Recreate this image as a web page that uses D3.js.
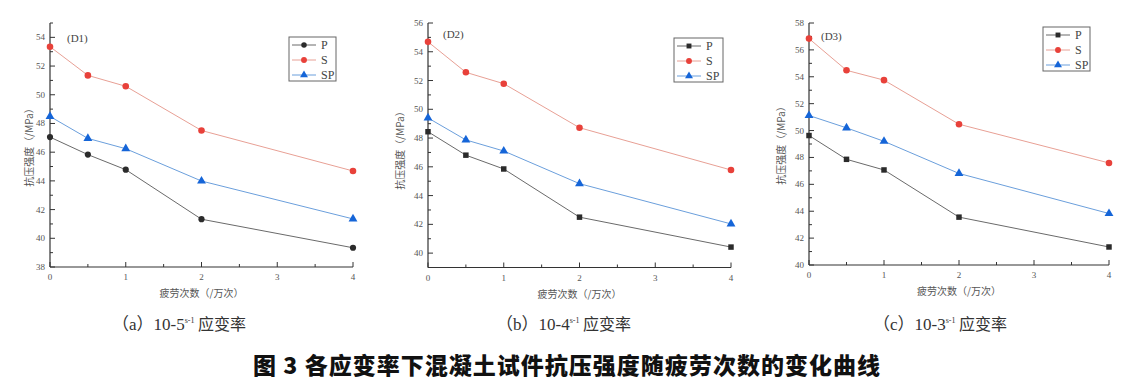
<!DOCTYPE html>
<html>
<head>
<meta charset="utf-8">
<script src="https://cdn.jsdelivr.net/npm/d3@7"></script>
<style>
    html, body { margin: 0; padding: 0; background: #fff; }
    svg { display: block; }
    .tick-label { font-family: 'Liberation Serif', 'DejaVu Serif', serif; font-size: 9px; fill: #555; }
    .axis-title { font-family: 'Noto Sans CJK SC', sans-serif; font-size: 10px; fill: #555; }
    .legend-label { font-family: 'Liberation Serif', serif; font-size: 12px; fill: #444; }
    .note { font-family: 'Liberation Serif', serif; font-size: 11px; fill: #444; }
    .sub-caption { font-family: 'Liberation Serif', 'Noto Sans CJK SC', serif; font-size: 17px; fill: #333; }
    .caption { font-family: 'Noto Sans CJK SC', sans-serif; font-size: 23px; font-weight: 900; fill: #111; }
</style>
</head>
<body>
<svg id="chart" width="1140" height="388"></svg>
<script>
// fatigue cycles (x 10^4)
var fatigueCounts = [ 0, 0.5, 1, 2, 4 ];
var seriesNames = [ 'P', 'S', 'SP' ];

// (a) 10^-5 s^-1
var d1P  = [ 47.05, 45.83, 44.78, 41.33, 39.34 ];
var d1S  = [ 53.35, 51.35, 50.59, 47.51, 44.69 ];
var d1SP = [ 48.49, 46.96, 46.24, 43.99, 41.35 ];
var d1Ticks = [ 38, 40, 42, 44, 46, 48, 50, 52, 54 ];

// (b) 10^-4 s^-1
var d2P  = [ 48.44, 46.81, 45.85, 42.50, 40.42 ];
var d2S  = [ 54.69, 52.57, 51.78, 48.72, 45.78 ];
var d2SP = [ 49.40, 47.87, 47.10, 44.83, 42.03 ];
var d2Ticks = [ 40, 42, 44, 46, 48, 50, 52, 54, 56 ];

// (c) 10^-3 s^-1
var d3P  = [ 49.63, 47.86, 47.07, 43.56, 41.34 ];
var d3S  = [ 56.84, 54.48, 53.75, 50.47, 47.59 ];
var d3SP = [ 51.12, 50.20, 49.20, 46.81, 43.83 ];
var d3Ticks = [ 40, 42, 44, 46, 48, 50, 52, 54, 56, 58 ];

var xTicks = [ 0, 1, 2, 3, 4 ];
var subCaptions = [ '（a）', '（b）', '（c）' ];
var rateExp = [ '10-5', '10-4', '10-3' ];
var notes = [ '(D1)', '(D2)', '(D3)' ];

var styles = {
    P:  { marker: '#2b2b2b', line: '#6a6a6a', symbol: d3.symbolCircle, size: 30 },
    S:  { marker: '#e8413a', line: '#e8a095', symbol: d3.symbolCircle, size: 34 },
    SP: { marker: '#1565d8', line: '#6b9fdc', symbol: d3.symbolTriangle, size: 34 }
};

var svg = d3.select( '#chart' );

function drawPanel( cfg ){
    var g = svg.append( 'g' ),
        x = d3.scaleLinear().domain( [ 0, 4 ] ).range( [ cfg.left, cfg.right ] ),
        y = d3.scaleLinear().domain( cfg.yDomain ).range( [ cfg.bottom, cfg.top ] ),
        series = { P: cfg.P, S: cfg.S, SP: cfg.SP },
        minorY = d3.range( cfg.yDomain[0], cfg.yDomain[1] + 0.01, 1 ),
        minorX = d3.range( 0, 4.01, 0.5 ),
        line = d3.line()
            .x( function( d, i ){ return x( fatigueCounts[i] ); } )
            .y( function( d ){ return y( d ); } );

    // axes lines
    g.append( 'line' )
        .attr( 'x1', x(0) ).attr( 'x2', x(0) )
        .attr( 'y1', y( cfg.yDomain[0] ) ).attr( 'y2', y( cfg.yDomain[1] ) )
        .attr( 'stroke', '#333' ).attr( 'stroke-width', 1.2 );
    g.append( 'line' )
        .attr( 'x1', x(0) ).attr( 'x2', x(4) )
        .attr( 'y1', y( cfg.yDomain[0] ) ).attr( 'y2', y( cfg.yDomain[0] ) )
        .attr( 'stroke', '#333' ).attr( 'stroke-width', 1.2 );

    // y ticks (inward)
    g.selectAll( '.ymin' ).data( minorY ).enter().append( 'line' )
        .attr( 'x1', x(0) ).attr( 'x2', function( d ){ return x(0) + ( cfg.yTicks.indexOf( d ) >= 0 ? 5 : 3 ); } )
        .attr( 'y1', y ).attr( 'y2', y )
        .attr( 'stroke', '#333' ).attr( 'stroke-width', 1 );
    g.selectAll( '.ylab' ).data( cfg.yTicks ).enter().append( 'text' )
        .attr( 'class', 'tick-label' )
        .attr( 'x', x(0) - 5 )
        .attr( 'y', function( d ){ return y( d ) + 3; } )
        .attr( 'text-anchor', 'end' )
        .text( function( d ){ return d; } );

    // x ticks (inward)
    g.selectAll( '.xmin' ).data( minorX ).enter().append( 'line' )
        .attr( 'x1', x ).attr( 'x2', x )
        .attr( 'y1', y( cfg.yDomain[0] ) )
        .attr( 'y2', function( d ){ return y( cfg.yDomain[0] ) - ( d % 1 === 0 ? 5 : 3 ); } )
        .attr( 'stroke', '#333' ).attr( 'stroke-width', 1 );
    g.selectAll( '.xlab' ).data( xTicks ).enter().append( 'text' )
        .attr( 'class', 'tick-label' )
        .attr( 'x', x )
        .attr( 'y', y( cfg.yDomain[0] ) + 13 )
        .attr( 'text-anchor', 'middle' )
        .text( function( d ){ return d; } );

    // titles
    g.append( 'text' )
        .attr( 'class', 'axis-title' )
        .attr( 'transform', 'translate(' + cfg.yTitleX + ',' + cfg.yTitleY + ') rotate(-90)' )
        .attr( 'text-anchor', 'middle' )
        .text( '抗压强度（/MPa）' );
    g.append( 'text' )
        .attr( 'class', 'axis-title' )
        .attr( 'x', ( cfg.left + cfg.right ) / 2 )
        .attr( 'y', cfg.xTitleY )
        .attr( 'text-anchor', 'middle' )
        .text( '疲劳次数（/万次）' );

    g.append( 'text' )
        .attr( 'class', 'note' )
        .attr( 'x', cfg.noteX ).attr( 'y', cfg.noteY )
        .text( cfg.note );

    // series
    seriesNames.forEach( function( name ){
        var st = styles[name],
            sym = d3.symbol().type( name === 'P' ? cfg.pSymbol : st.symbol ).size( st.size );

        g.append( 'path' )
            .attr( 'd', line( series[name] ) )
            .attr( 'fill', 'none' )
            .attr( 'stroke', st.line )
            .attr( 'stroke-width', 1 );

        g.selectAll( '.m' + name ).data( series[name] ).enter().append( 'path' )
            .attr( 'd', sym )
            .attr( 'transform', function( d, i ){ return 'translate(' + x( fatigueCounts[i] ) + ',' + y( d ) + ')'; } )
            .attr( 'fill', st.marker );
    });

    // legend
    var lg = g.append( 'g' ).attr( 'transform', 'translate(' + cfg.legendX + ',' + cfg.legendY + ')' );
    lg.append( 'rect' )
        .attr( 'width', cfg.legendW ).attr( 'height', 44 )
        .attr( 'fill', '#fff' ).attr( 'stroke', '#666' ).attr( 'stroke-width', 1 );
    seriesNames.forEach( function( name, i ){
        var st = styles[name],
            ly = 8 + i * 15,
            sym = d3.symbol().type( name === 'P' ? cfg.pSymbol : st.symbol ).size( st.size * 0.8 );
        lg.append( 'line' )
            .attr( 'x1', 3 ).attr( 'x2', 27 ).attr( 'y1', ly ).attr( 'y2', ly )
            .attr( 'stroke', st.line ).attr( 'stroke-width', 1 );
        lg.append( 'path' )
            .attr( 'd', sym )
            .attr( 'transform', 'translate(15,' + ly + ')' )
            .attr( 'fill', st.marker );
        lg.append( 'text' )
            .attr( 'class', 'legend-label' )
            .attr( 'x', 32 ).attr( 'y', ly + 4 )
            .text( name );
    });

    // sub caption
    var sc = svg.append( 'text' )
        .attr( 'class', 'sub-caption' )
        .attr( 'x', cfg.captionX ).attr( 'y', 330 );
    sc.append( 'tspan' ).text( cfg.caption + cfg.rate );
    sc.append( 'tspan' ).attr( 'dy', -7 ).attr( 'font-size', '8px' ).text( 's-1' );
    sc.append( 'tspan' ).attr( 'dy', 7 ).attr( 'font-family', 'Noto Sans CJK SC' ).attr( 'font-size', '16px' ).text( ' 应变率' );
}

drawPanel({
    P: d1P, S: d1S, SP: d1SP, yTicks: d1Ticks, yDomain: [ 38, 55 ],
    left: 50, right: 353, top: 23, bottom: 267, pSymbol: d3.symbolCircle,
    yTitleX: 33, yTitleY: 145, xTitleY: 297,
    note: notes[0], noteX: 67, noteY: 42,
    legendX: 289, legendY: 37, legendW: 47,
    caption: subCaptions[0], rate: rateExp[0], captionX: 112
});
drawPanel({
    P: d2P, S: d2S, SP: d2SP, yTicks: d2Ticks, yDomain: [ 39, 56 ],
    left: 428, right: 731, top: 23, bottom: 267.5, pSymbol: d3.symbolSquare,
    yTitleX: 404, yTitleY: 148, xTitleY: 298,
    note: notes[1], noteX: 443, noteY: 38,
    legendX: 674, legendY: 38, legendW: 49,
    caption: subCaptions[1], rate: rateExp[1], captionX: 496
});
drawPanel({
    P: d3P, S: d3S, SP: d3SP, yTicks: d3Ticks, yDomain: [ 40, 58 ],
    left: 809, right: 1109, top: 23, bottom: 265, pSymbol: d3.symbolSquare,
    yTitleX: 785, yTitleY: 143, xTitleY: 295,
    note: notes[2], noteX: 821, noteY: 40,
    legendX: 1043, legendY: 27, legendW: 47,
    caption: subCaptions[2], rate: rateExp[2], captionX: 873
});

svg.append( 'text' )
    .attr( 'class', 'caption' )
    .attr( 'x', 253 ).attr( 'y', 374 )
    .attr( 'textLength', 627 )
    .attr( 'lengthAdjust', 'spacing' )
    .text( '图 3  各应变率下混凝土试件抗压强度随疲劳次数的变化曲线' );
</script>
</body>
</html>
